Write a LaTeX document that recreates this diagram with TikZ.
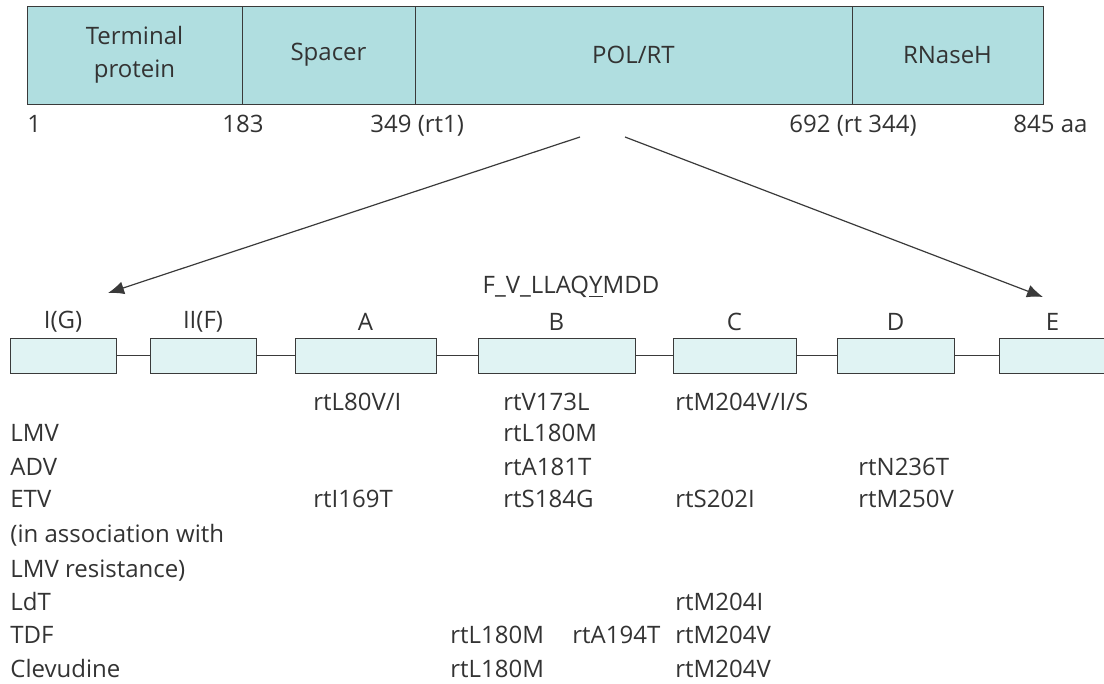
\documentclass[tikz,border=0pt]{standalone}
\usepackage{fontspec}
\setmainfont{Open Sans}
\usepackage{xcolor}
\usepackage{tikz}
\usetikzlibrary{positioning,arrows.meta}

\definecolor{txt}{HTML}{333333}
\definecolor{edge}{HTML}{3A3A3A}
\definecolor{barfill}{HTML}{B0DEE0}
\definecolor{motiffill}{HTML}{E0F3F3}

\begin{document}
\begin{tikzpicture}[
    x=0.5pt, y=-0.5pt,
    every node/.style={text=txt, font=\fontsize{12}{16.5}\selectfont},
    seg/.style={draw=edge,
                fill=barfill,
                outer sep=0pt,
                minimum height=49pt,
                align=center},
    motif/.style={draw=edge, fill=motiffill, minimum height=17.5pt, inner sep=0pt},
    lbl/.style={inner sep=0pt},
    mut/.style={inner sep=0pt, anchor=base west},
    conn/.style={-, draw=edge, thin},
    arr/.style={-{Latex[length=8pt,width=6.5pt]}, draw=edge, semithick}
]
\useasboundingbox (0,0) rectangle (1104,684);

% domains of the polymerase
\node[seg, minimum width=107.5pt, anchor=north west] (tp) at (27,6) {Terminal\\protein};
\node[seg, minimum width=86.5pt, right=0pt of tp] (sp) {Spacer};
\node[seg, minimum width=218.5pt, right=0pt of sp] (pol) {POL/RT};
\node[seg, minimum width=95.5pt, right=0pt of pol] (rh) {RNaseH};

% amino acid positions
\node[mut] (p1) at (27,133) {1};
\node[mut] (p2) at (222,133) {183};
\node[mut] (p3) at (370,133) {349 (rt1)};
\node[mut] (p4) at (789,133) {692 (rt 344)};
\node[mut] (p5) at (1013,133) {845 aa};

% zoom into the RT domain
\coordinate (zl) at (580,137);
\coordinate (zr) at (625,137);
\coordinate (tl) at (108,293);
\coordinate (tr) at (1043,297);
\draw[arr] (zl) -- (tl);
\draw[arr] (zr) -- (tr);

\node[lbl] (seq) at (571,287) {F\_V\_LLAQ\underline{Y}MDD};

% conserved motifs
\foreach \c/\w/\t [count=\i] in {63/106/I(G), 203/106/II(F), 365.5/141/A,
        556.5/157/B, 734.5/123/C, 895.5/117/D, 1052.5/107/E} {
    \node[motif, minimum width=\w*0.5pt] (m\i) at (\c,355.5) {};
    \node[lbl] (t\i) at (\c,322) {\t};
}
\foreach \i [remember=\i as \j (initially 1)] in {2,...,7}
    \draw[conn] (m\j.east) -- (m\i.west);

% drugs
\foreach \d/\y [count=\i] in {LMV/442, ADV/475, ETV/507, {{(in association with}}/542,
        {{LMV resistance)}}/577, LdT/610, TDF/643, Clevudine/677}
    \node[mut] (d\i) at (10,\y) {\d};

% resistance mutations
\node[mut] (r1) at (313,410) {rtL80V/I};
\node[mut] (r2) at (503,410) {rtV173L};
\node[mut] (r3) at (675,410) {rtM204V/I/S};
\node[mut] (r4) at (503,442) {rtL180M};
\node[mut] (r5) at (503,475) {rtA181T};
\node[mut] (r6) at (858,475) {rtN236T};
\node[mut] (r7) at (313,507) {rtI169T};
\node[mut] (r8) at (503,507) {rtS184G};
\node[mut] (r9) at (675,507) {rtS202I};
\node[mut] (r10) at (858,507) {rtM250V};
\node[mut] (r11) at (675,610) {rtM204I};
\node[mut] (r12) at (450,643) {rtL180M};
\node[mut] (r13) at (572,643) {rtA194T};
\node[mut] (r14) at (675,643) {rtM204V};
\node[mut] (r15) at (450,677) {rtL180M};
\node[mut] (r16) at (675,677) {rtM204V};
\end{tikzpicture}
\end{document}
